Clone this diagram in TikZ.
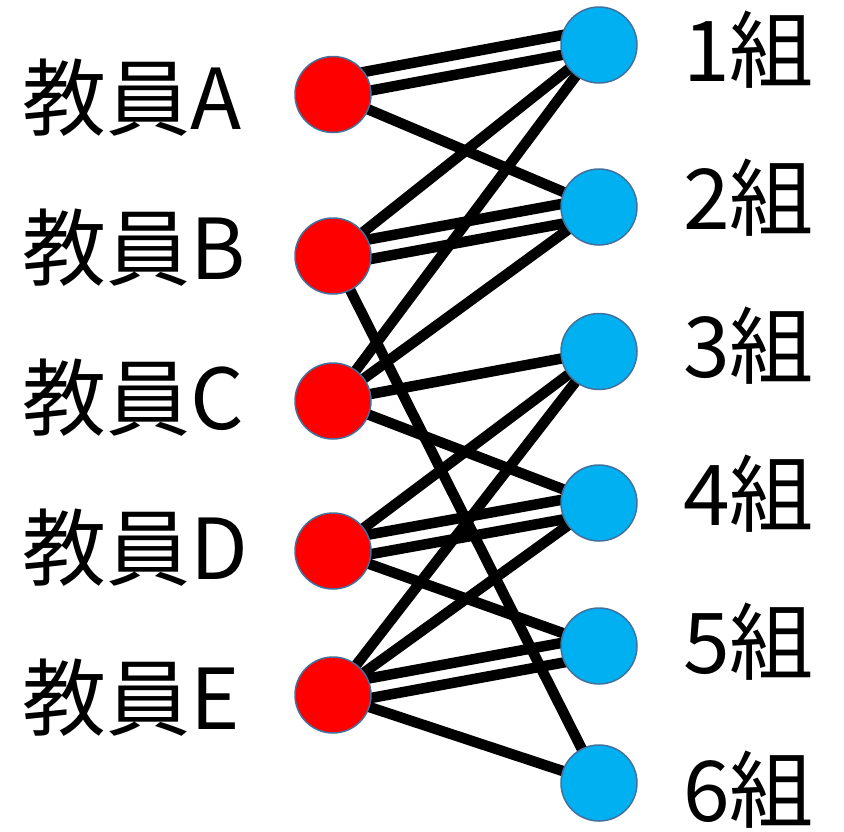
\documentclass[tikz,border=0pt]{standalone}
\usepackage{fontspec}
\setmainfont{Noto Sans CJK JP}
\usetikzlibrary{calc,backgrounds}
\definecolor{clsblue}{HTML}{00B0F0}
\definecolor{nodeborder}{HTML}{41719C}
\newcommand{\dedge}[4]{%
  \draw[edgeline] ($(#1)!#3!90:(#2)$) -- ($(#2)!#3!-90:(#1)$);
  \draw[edgeline] ($(#1)!#4!90:(#2)$) -- ($(#2)!#4!-90:(#1)$);}
\begin{document}
\begin{tikzpicture}[x=1pt,y=-1pt,
  teacher/.style={circle,fill=red,draw=nodeborder,line width=1.5pt,minimum size=76pt,inner sep=0pt},
  cls/.style={circle,fill=clsblue,draw=nodeborder,line width=1.5pt,minimum size=76pt,inner sep=0pt},
  lbl/.style={font=\fontsize{84}{90}\selectfont,inner sep=0pt,anchor=west},
  edgeline/.style={line width=10.5pt,black}]
\useasboundingbox (0,0) rectangle (844,831);
% teachers
\node[teacher] (A) at (333,94.5) {};
\node[teacher] (B) at (333,256) {};
\node[teacher] (C) at (333,401) {};
\node[teacher] (D) at (333,551) {};
\node[teacher] (E) at (333,695) {};
% classes
\node[cls] (k1) at (599,45) {};
\node[cls] (k2) at (599,207) {};
\node[cls] (k3) at (599,351.5) {};
\node[cls] (k4) at (599,503) {};
\node[cls] (k5) at (599,646) {};
\node[cls] (k6) at (599,783) {};
% labels
\node[lbl] (lA) at (22,98) {教員A};
\node[lbl] (lB) at (22,248) {教員B};
\node[lbl] (lC) at (22,398) {教員C};
\node[lbl] (lD) at (22,548) {教員D};
\node[lbl] (lE) at (22,698) {教員E};
\node[lbl] (l1) at (683,50) {1組};
\node[lbl] (l2) at (683,198) {2組};
\node[lbl] (l3) at (683,346) {3組};
\node[lbl] (l4) at (683,494) {4組};
\node[lbl] (l5) at (683,642) {5組};
\node[lbl] (l6) at (683,790) {6組};
\begin{pgfonlayer}{background}
\dedge{A.center}{k1.center}{16.5pt}{-3pt}
\draw[edgeline] (A.center) -- (k2.center);
\draw[edgeline] (B.center) -- (k1.center);
\dedge{B.center}{k2.center}{9.8pt}{-9.8pt}
\draw[edgeline] (B.center) -- (k6.center);
\draw[edgeline] (C.center) -- (k1.center);
\draw[edgeline] (C.center) -- (k2.center);
\draw[edgeline] (C.center) -- (k3.center);
\draw[edgeline] (C.center) -- (k4.center);
\draw[edgeline] (D.center) -- (k3.center);
\dedge{D.center}{k4.center}{9.8pt}{-9.8pt}
\draw[edgeline] (D.center) -- (k5.center);
\draw[edgeline] (E.center) -- (k3.center);
\draw[edgeline] (E.center) -- (k4.center);
\dedge{E.center}{k5.center}{9.8pt}{-9.8pt}
\draw[edgeline] (E.center) -- (k6.center);
\end{pgfonlayer}
\end{tikzpicture}
\end{document}
